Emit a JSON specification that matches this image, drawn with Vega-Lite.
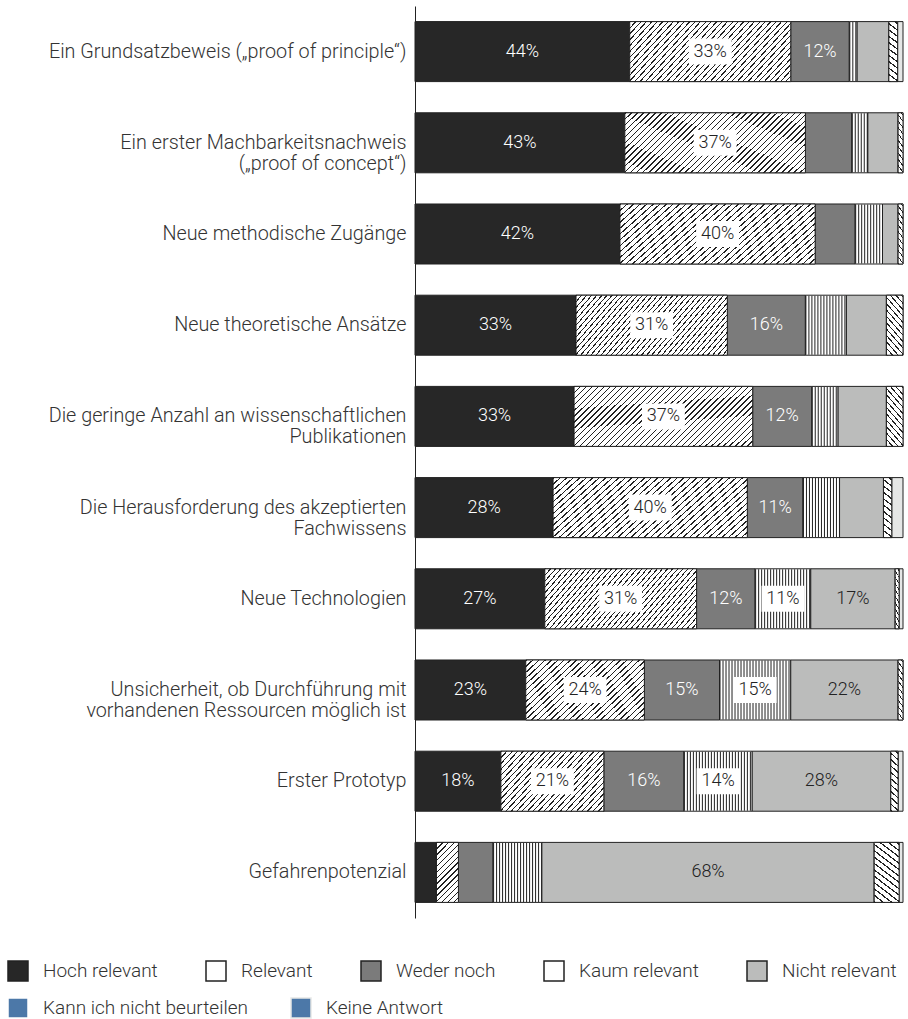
{
 "$schema": "https://vega.github.io/schema/vega-lite/v6.json",
 "width": 488, "height": 912,
 "autosize": "none",
 "padding": {"left": 415, "top": 6, "right": 5, "bottom": 101},
 "config": {"font": "Roboto", "view": {"stroke": null}},
 "params": [{"name": "hatch", "value": [
{"offset":0,"color":"#222"},{"offset":0.006,"color":"#222"},{"offset":0.006,"color":"#fff"},{"offset":0.025,"color":"#fff"},
{"offset":0.025,"color":"#222"},{"offset":0.031,"color":"#222"},{"offset":0.031,"color":"#fff"},{"offset":0.05,"color":"#fff"},
{"offset":0.05,"color":"#222"},{"offset":0.056,"color":"#222"},{"offset":0.056,"color":"#fff"},{"offset":0.075,"color":"#fff"},
{"offset":0.075,"color":"#222"},{"offset":0.081,"color":"#222"},{"offset":0.081,"color":"#fff"},{"offset":0.1,"color":"#fff"},
{"offset":0.1,"color":"#222"},{"offset":0.106,"color":"#222"},{"offset":0.106,"color":"#fff"},{"offset":0.125,"color":"#fff"},
{"offset":0.125,"color":"#222"},{"offset":0.131,"color":"#222"},{"offset":0.131,"color":"#fff"},{"offset":0.15,"color":"#fff"},
{"offset":0.15,"color":"#222"},{"offset":0.156,"color":"#222"},{"offset":0.156,"color":"#fff"},{"offset":0.175,"color":"#fff"},
{"offset":0.175,"color":"#222"},{"offset":0.181,"color":"#222"},{"offset":0.181,"color":"#fff"},{"offset":0.2,"color":"#fff"},
{"offset":0.2,"color":"#222"},{"offset":0.206,"color":"#222"},{"offset":0.206,"color":"#fff"},{"offset":0.225,"color":"#fff"},
{"offset":0.225,"color":"#222"},{"offset":0.231,"color":"#222"},{"offset":0.231,"color":"#fff"},{"offset":0.25,"color":"#fff"},
{"offset":0.25,"color":"#222"},{"offset":0.256,"color":"#222"},{"offset":0.256,"color":"#fff"},{"offset":0.275,"color":"#fff"},
{"offset":0.275,"color":"#222"},{"offset":0.281,"color":"#222"},{"offset":0.281,"color":"#fff"},{"offset":0.3,"color":"#fff"},
{"offset":0.3,"color":"#222"},{"offset":0.306,"color":"#222"},{"offset":0.306,"color":"#fff"},{"offset":0.325,"color":"#fff"},
{"offset":0.325,"color":"#222"},{"offset":0.331,"color":"#222"},{"offset":0.331,"color":"#fff"},{"offset":0.35,"color":"#fff"},
{"offset":0.35,"color":"#222"},{"offset":0.356,"color":"#222"},{"offset":0.356,"color":"#fff"},{"offset":0.375,"color":"#fff"},
{"offset":0.375,"color":"#222"},{"offset":0.381,"color":"#222"},{"offset":0.381,"color":"#fff"},{"offset":0.4,"color":"#fff"},
{"offset":0.4,"color":"#222"},{"offset":0.406,"color":"#222"},{"offset":0.406,"color":"#fff"},{"offset":0.425,"color":"#fff"},
{"offset":0.425,"color":"#222"},{"offset":0.431,"color":"#222"},{"offset":0.431,"color":"#fff"},{"offset":0.45,"color":"#fff"},
{"offset":0.45,"color":"#222"},{"offset":0.456,"color":"#222"},{"offset":0.456,"color":"#fff"},{"offset":0.475,"color":"#fff"},
{"offset":0.475,"color":"#222"},{"offset":0.481,"color":"#222"},{"offset":0.481,"color":"#fff"},{"offset":0.5,"color":"#fff"},
{"offset":0.5,"color":"#222"},{"offset":0.506,"color":"#222"},{"offset":0.506,"color":"#fff"},{"offset":0.525,"color":"#fff"},
{"offset":0.525,"color":"#222"},{"offset":0.531,"color":"#222"},{"offset":0.531,"color":"#fff"},{"offset":0.55,"color":"#fff"},
{"offset":0.55,"color":"#222"},{"offset":0.556,"color":"#222"},{"offset":0.556,"color":"#fff"},{"offset":0.575,"color":"#fff"},
{"offset":0.575,"color":"#222"},{"offset":0.581,"color":"#222"},{"offset":0.581,"color":"#fff"},{"offset":0.6,"color":"#fff"},
{"offset":0.6,"color":"#222"},{"offset":0.606,"color":"#222"},{"offset":0.606,"color":"#fff"},{"offset":0.625,"color":"#fff"},
{"offset":0.625,"color":"#222"},{"offset":0.631,"color":"#222"},{"offset":0.631,"color":"#fff"},{"offset":0.65,"color":"#fff"},
{"offset":0.65,"color":"#222"},{"offset":0.656,"color":"#222"},{"offset":0.656,"color":"#fff"},{"offset":0.675,"color":"#fff"},
{"offset":0.675,"color":"#222"},{"offset":0.681,"color":"#222"},{"offset":0.681,"color":"#fff"},{"offset":0.7,"color":"#fff"},
{"offset":0.7,"color":"#222"},{"offset":0.706,"color":"#222"},{"offset":0.706,"color":"#fff"},{"offset":0.725,"color":"#fff"},
{"offset":0.725,"color":"#222"},{"offset":0.731,"color":"#222"},{"offset":0.731,"color":"#fff"},{"offset":0.75,"color":"#fff"},
{"offset":0.75,"color":"#222"},{"offset":0.756,"color":"#222"},{"offset":0.756,"color":"#fff"},{"offset":0.775,"color":"#fff"},
{"offset":0.775,"color":"#222"},{"offset":0.781,"color":"#222"},{"offset":0.781,"color":"#fff"},{"offset":0.8,"color":"#fff"},
{"offset":0.8,"color":"#222"},{"offset":0.806,"color":"#222"},{"offset":0.806,"color":"#fff"},{"offset":0.825,"color":"#fff"},
{"offset":0.825,"color":"#222"},{"offset":0.831,"color":"#222"},{"offset":0.831,"color":"#fff"},{"offset":0.85,"color":"#fff"},
{"offset":0.85,"color":"#222"},{"offset":0.856,"color":"#222"},{"offset":0.856,"color":"#fff"},{"offset":0.875,"color":"#fff"},
{"offset":0.875,"color":"#222"},{"offset":0.881,"color":"#222"},{"offset":0.881,"color":"#fff"},{"offset":0.9,"color":"#fff"},
{"offset":0.9,"color":"#222"},{"offset":0.906,"color":"#222"},{"offset":0.906,"color":"#fff"},{"offset":0.925,"color":"#fff"},
{"offset":0.925,"color":"#222"},{"offset":0.931,"color":"#222"},{"offset":0.931,"color":"#fff"},{"offset":0.95,"color":"#fff"},
{"offset":0.95,"color":"#222"},{"offset":0.956,"color":"#222"},{"offset":0.956,"color":"#fff"},{"offset":0.975,"color":"#fff"},
{"offset":0.975,"color":"#222"},{"offset":0.981,"color":"#222"},{"offset":0.981,"color":"#fff"},{"offset":1,"color":"#fff"}
 ]}],
 "data": {"values": [
  {"c": "Ein Grundsatzbeweis („proof of principle“)", "s": "Hoch relevant", "v": 44},
  {"c": "Ein Grundsatzbeweis („proof of principle“)", "s": "Relevant", "v": 33},
  {"c": "Ein Grundsatzbeweis („proof of principle“)", "s": "Weder noch", "v": 12},
  {"c": "Ein Grundsatzbeweis („proof of principle“)", "s": "Kaum relevant", "v": 1.6},
  {"c": "Ein Grundsatzbeweis („proof of principle“)", "s": "Nicht relevant", "v": 6.5},
  {"c": "Ein Grundsatzbeweis („proof of principle“)", "s": "Kann ich nicht beurteilen", "v": 1.8},
  {"c": "Ein Grundsatzbeweis („proof of principle“)", "s": "Keine Antwort", "v": 1.1},
  {"c": "Ein erster Machbarkeitsnachweis\n(„proof of concept“)", "s": "Hoch relevant", "v": 43},
  {"c": "Ein erster Machbarkeitsnachweis\n(„proof of concept“)", "s": "Relevant", "v": 37},
  {"c": "Ein erster Machbarkeitsnachweis\n(„proof of concept“)", "s": "Weder noch", "v": 9.5},
  {"c": "Ein erster Machbarkeitsnachweis\n(„proof of concept“)", "s": "Kaum relevant", "v": 3.3},
  {"c": "Ein erster Machbarkeitsnachweis\n(„proof of concept“)", "s": "Nicht relevant", "v": 6.2},
  {"c": "Ein erster Machbarkeitsnachweis\n(„proof of concept“)", "s": "Kann ich nicht beurteilen", "v": 1.0},
  {"c": "Neue methodische Zugänge", "s": "Hoch relevant", "v": 42},
  {"c": "Neue methodische Zugänge", "s": "Relevant", "v": 40},
  {"c": "Neue methodische Zugänge", "s": "Weder noch", "v": 8.2},
  {"c": "Neue methodische Zugänge", "s": "Kaum relevant", "v": 5.6},
  {"c": "Neue methodische Zugänge", "s": "Nicht relevant", "v": 3.2},
  {"c": "Neue methodische Zugänge", "s": "Kann ich nicht beurteilen", "v": 1.0},
  {"c": "Neue theoretische Ansätze", "s": "Hoch relevant", "v": 33},
  {"c": "Neue theoretische Ansätze", "s": "Relevant", "v": 31},
  {"c": "Neue theoretische Ansätze", "s": "Weder noch", "v": 16},
  {"c": "Neue theoretische Ansätze", "s": "Kaum relevant", "v": 8.4},
  {"c": "Neue theoretische Ansätze", "s": "Nicht relevant", "v": 8.2},
  {"c": "Neue theoretische Ansätze", "s": "Kann ich nicht beurteilen", "v": 3.4},
  {"c": "Die geringe Anzahl an wissenschaftlichen\nPublikationen", "s": "Hoch relevant", "v": 32.6},
  {"c": "Die geringe Anzahl an wissenschaftlichen\nPublikationen", "s": "Relevant", "v": 36.6},
  {"c": "Die geringe Anzahl an wissenschaftlichen\nPublikationen", "s": "Weder noch", "v": 12.1},
  {"c": "Die geringe Anzahl an wissenschaftlichen\nPublikationen", "s": "Kaum relevant", "v": 5.4},
  {"c": "Die geringe Anzahl an wissenschaftlichen\nPublikationen", "s": "Nicht relevant", "v": 9.9},
  {"c": "Die geringe Anzahl an wissenschaftlichen\nPublikationen", "s": "Kann ich nicht beurteilen", "v": 3.4},
  {"c": "Die Herausforderung des akzeptierten\nFachwissens", "s": "Hoch relevant", "v": 28.3},
  {"c": "Die Herausforderung des akzeptierten\nFachwissens", "s": "Relevant", "v": 39.8},
  {"c": "Die Herausforderung des akzeptierten\nFachwissens", "s": "Weder noch", "v": 11.4},
  {"c": "Die Herausforderung des akzeptierten\nFachwissens", "s": "Kaum relevant", "v": 7.5},
  {"c": "Die Herausforderung des akzeptierten\nFachwissens", "s": "Nicht relevant", "v": 9.0},
  {"c": "Die Herausforderung des akzeptierten\nFachwissens", "s": "Kann ich nicht beurteilen", "v": 1.7},
  {"c": "Die Herausforderung des akzeptierten\nFachwissens", "s": "Keine Antwort", "v": 2.3},
  {"c": "Neue Technologien", "s": "Hoch relevant", "v": 26.6},
  {"c": "Neue Technologien", "s": "Relevant", "v": 31.1},
  {"c": "Neue Technologien", "s": "Weder noch", "v": 12.0},
  {"c": "Neue Technologien", "s": "Kaum relevant", "v": 11.4},
  {"c": "Neue Technologien", "s": "Nicht relevant", "v": 17.3},
  {"c": "Neue Technologien", "s": "Kann ich nicht beurteilen", "v": 0.8},
  {"c": "Neue Technologien", "s": "Keine Antwort", "v": 0.8},
  {"c": "Unsicherheit, ob Durchführung mit\nvorhandenen Ressourcen möglich ist", "s": "Hoch relevant", "v": 22.7},
  {"c": "Unsicherheit, ob Durchführung mit\nvorhandenen Ressourcen möglich ist", "s": "Relevant", "v": 24.3},
  {"c": "Unsicherheit, ob Durchführung mit\nvorhandenen Ressourcen möglich ist", "s": "Weder noch", "v": 15.4},
  {"c": "Unsicherheit, ob Durchführung mit\nvorhandenen Ressourcen möglich ist", "s": "Kaum relevant", "v": 14.6},
  {"c": "Unsicherheit, ob Durchführung mit\nvorhandenen Ressourcen möglich ist", "s": "Nicht relevant", "v": 22.0},
  {"c": "Unsicherheit, ob Durchführung mit\nvorhandenen Ressourcen möglich ist", "s": "Kann ich nicht beurteilen", "v": 1.0},
  {"c": "Erster Prototyp", "s": "Hoch relevant", "v": 17.6},
  {"c": "Erster Prototyp", "s": "Relevant", "v": 21.1},
  {"c": "Erster Prototyp", "s": "Weder noch", "v": 16.4},
  {"c": "Erster Prototyp", "s": "Kaum relevant", "v": 14.0},
  {"c": "Erster Prototyp", "s": "Nicht relevant", "v": 28.4},
  {"c": "Erster Prototyp", "s": "Kann ich nicht beurteilen", "v": 1.5},
  {"c": "Erster Prototyp", "s": "Keine Antwort", "v": 1.0},
  {"c": "Gefahrenpotenzial", "s": "Hoch relevant", "v": 4.4},
  {"c": "Gefahrenpotenzial", "s": "Relevant", "v": 4.5},
  {"c": "Gefahrenpotenzial", "s": "Weder noch", "v": 7.1},
  {"c": "Gefahrenpotenzial", "s": "Kaum relevant", "v": 10.0},
  {"c": "Gefahrenpotenzial", "s": "Nicht relevant", "v": 68.1},
  {"c": "Gefahrenpotenzial", "s": "Kann ich nicht beurteilen", "v": 5.1},
  {"c": "Gefahrenpotenzial", "s": "Keine Antwort", "v": 0.8}
 ]},
 "transform": [
  {"calculate": "indexof(['Hoch relevant','Relevant','Weder noch','Kaum relevant','Nicht relevant','Kann ich nicht beurteilen','Keine Antwort'], datum.s)", "as": "o"},
  {"stack": "v", "groupby": ["c"], "sort": [{"field": "o", "order": "ascending"}], "as": ["v0", "v1"]},
  {"calculate": "(datum.v0 + datum.v1) / 2", "as": "mid"},
  {"calculate": "format(datum.v, '.0f') + '%'", "as": "lab"}
 ],
 "encoding": {
  "y": {"field": "c", "type": "nominal",
   "scale": {"domain": [
     "Ein Grundsatzbeweis („proof of principle“)",
     "Ein erster Machbarkeitsnachweis\n(„proof of concept“)",
     "Neue methodische Zugänge",
     "Neue theoretische Ansätze",
     "Die geringe Anzahl an wissenschaftlichen\nPublikationen",
     "Die Herausforderung des akzeptierten\nFachwissens",
     "Neue Technologien",
     "Unsicherheit, ob Durchführung mit\nvorhandenen Ressourcen möglich ist",
     "Erster Prototyp",
     "Gefahrenpotenzial"], "paddingInner": 0.342, "paddingOuter": 0.171},
   "axis": {"title": null, "ticks": false, "grid": false, "domainColor": "#222", "domainWidth": 1,
     "labelPadding": 9, "labelFontSize": 19.8, "labelFont": "Roboto", "labelFontWeight": 300, "labelColor": "#333",
     "labelLimit": 414, "labelLineHeight": 21, "labelExpr": "split(datum.label, '\\n')"}}
 },
 "layer": [
  {"transform": [{"filter": "datum.s === 'Kann ich nicht beurteilen' || datum.s === 'Keine Antwort'"}, {"calculate": "datum.s", "as": "s2"}],
   "mark": {"type": "bar", "opacity": 0},
   "encoding": {
    "x": {"field": "v0", "type": "quantitative", "scale": {"domain": [0, 100], "nice": false}, "axis": null},
    "x2": {"field": "v1"},
    "stroke": {"field": "s2", "type": "nominal",
     "scale": {"domain": ["Kann ich nicht beurteilen","Keine Antwort"], "range": ["#ffffff","#e6e7e6"]},
     "legend": {"orient": "none", "legendX": -408, "legendY": 991, "direction": "horizontal", "columns": 2,
       "columnPadding": 40, "symbolType": "square", "symbolSize": 400,
       "labelFontSize": 19, "labelFont": "Roboto", "labelFontWeight": 300, "labelColor": "#333", "labelOffset": 14, "labelLimit": 300, "title": null, "padding": 0,
       "encode": {"symbols": {
         "fill": {"condition": {"test": "datum.value === 'Kann ich nicht beurteilen'",
            "value": {"gradient": "linear", "x1": 0, "y1": 1, "x2": 1, "y2": 0.0001, "stops": [
              {"offset":0,"color":"#222"},{"offset":0.055,"color":"#222"},{"offset":0.055,"color":"#fff"},{"offset":0.2,"color":"#fff"},
              {"offset":0.2,"color":"#222"},{"offset":0.255,"color":"#222"},{"offset":0.255,"color":"#fff"},{"offset":0.4,"color":"#fff"},
              {"offset":0.4,"color":"#222"},{"offset":0.455,"color":"#222"},{"offset":0.455,"color":"#fff"},{"offset":0.6,"color":"#fff"},
              {"offset":0.6,"color":"#222"},{"offset":0.655,"color":"#222"},{"offset":0.655,"color":"#fff"},{"offset":0.8,"color":"#fff"},
              {"offset":0.8,"color":"#222"},{"offset":0.855,"color":"#222"},{"offset":0.855,"color":"#fff"},{"offset":1,"color":"#fff"}]}},
           "value": "#e6e7e6"},
         "stroke": {"value": "#222"}, "strokeWidth": {"value": 1}, "opacity": {"value": 1}}}}}
   }},
  {"mark": {"type": "bar", "stroke": "#222", "strokeWidth": 1},
   "encoding": {
    "x": {"field": "v0", "type": "quantitative"},
    "x2": {"field": "v1"},
    "fill": {"field": "s", "type": "nominal",
     "scale": {"domain": ["Hoch relevant","Relevant","Weder noch","Kaum relevant","Nicht relevant","Kann ich nicht beurteilen","Keine Antwort"],
               "range": ["#272727","#ffffff","#7b7b7b","#ffffff","#bbbcbb","#ffffff","#e6e7e6"]},
     "legend": {"values": ["Hoch relevant","Relevant","Weder noch","Kaum relevant","Nicht relevant"], "orient": "none", "legendX": -408, "legendY": 954, "direction": "horizontal", "columns": 5,
       "columnPadding": 45, "symbolType": "square", "symbolSize": 400,
       "labelFontSize": 19, "labelFont": "Roboto", "labelFontWeight": 300, "labelColor": "#333", "labelOffset": 14, "labelLimit": 300, "title": null, "padding": 0,
       "encode": {"symbols": {
         "fill": {"condition": [
           {"test": "datum.value === 'Relevant'",
            "value": {"gradient": "linear", "x1": 0, "y1": 0, "x2": 1, "y2": 1, "stops": [
              {"offset":0,"color":"#222"},{"offset":0.04,"color":"#222"},{"offset":0.04,"color":"#fff"},{"offset":0.1667,"color":"#fff"},
              {"offset":0.1667,"color":"#222"},{"offset":0.2067,"color":"#222"},{"offset":0.2067,"color":"#fff"},{"offset":0.3333,"color":"#fff"},
              {"offset":0.3333,"color":"#222"},{"offset":0.3733,"color":"#222"},{"offset":0.3733,"color":"#fff"},{"offset":0.5,"color":"#fff"},
              {"offset":0.5,"color":"#222"},{"offset":0.54,"color":"#222"},{"offset":0.54,"color":"#fff"},{"offset":0.6667,"color":"#fff"},
              {"offset":0.6667,"color":"#222"},{"offset":0.7067,"color":"#222"},{"offset":0.7067,"color":"#fff"},{"offset":0.8333,"color":"#fff"},
              {"offset":0.8333,"color":"#222"},{"offset":0.8733,"color":"#222"},{"offset":0.8733,"color":"#fff"},{"offset":1,"color":"#fff"}]}},
           {"test": "datum.value === 'Kaum relevant'",
            "value": {"gradient": "linear", "x1": 0, "y1": 0, "x2": 1, "y2": 0, "stops": [
              {"offset":0,"color":"#222"},{"offset":0.05,"color":"#222"},{"offset":0.05,"color":"#fff"},{"offset":0.1667,"color":"#fff"},
              {"offset":0.1667,"color":"#222"},{"offset":0.2167,"color":"#222"},{"offset":0.2167,"color":"#fff"},{"offset":0.3333,"color":"#fff"},
              {"offset":0.3333,"color":"#222"},{"offset":0.3833,"color":"#222"},{"offset":0.3833,"color":"#fff"},{"offset":0.5,"color":"#fff"},
              {"offset":0.5,"color":"#222"},{"offset":0.55,"color":"#222"},{"offset":0.55,"color":"#fff"},{"offset":0.6667,"color":"#fff"},
              {"offset":0.6667,"color":"#222"},{"offset":0.7167,"color":"#222"},{"offset":0.7167,"color":"#fff"},{"offset":0.8333,"color":"#fff"},
              {"offset":0.8333,"color":"#222"},{"offset":0.8833,"color":"#222"},{"offset":0.8833,"color":"#fff"},{"offset":1,"color":"#fff"}]}},
           {"test": "datum.value === 'Hoch relevant'", "value": "#272727"},
           {"test": "datum.value === 'Weder noch'", "value": "#7b7b7b"}],
          "value": "#bbbcbb"},
         "stroke": {"value": "#222"}, "strokeWidth": {"value": 1}, "opacity": {"value": 1}}}}}
   }},
  {"transform": [{"filter": "datum.s === 'Relevant' && datum.v >= 28"}],
   "mark": {"type": "bar", "stroke": "#222", "strokeWidth": 1, "fill": {"expr": "{gradient:'linear',x1:0,y1:0,x2:1.2005,y2:0.4116,stops:hatch}"}},
   "encoding": {"x": {"field": "v0", "type": "quantitative"}, "x2": {"field": "v1"}}},
  {"transform": [{"filter": "datum.s === 'Relevant' && datum.v >= 15 && datum.v < 28"}],
   "mark": {"type": "bar", "stroke": "#222", "strokeWidth": 1, "fill": {"expr": "{gradient:'linear',x1:0,y1:0,x2:1.637,y2:0.885,stops:hatch}"}},
   "encoding": {"x": {"field": "v0", "type": "quantitative"}, "x2": {"field": "v1"}}},
  {"transform": [{"filter": "datum.s === 'Relevant' && datum.v < 15"}],
   "mark": {"type": "bar", "stroke": "#222", "strokeWidth": 1, "fill": {"expr": "{gradient:'linear',x1:0,y1:0,x2:1.265,y2:3.45,stops:hatch}"}},
   "encoding": {"x": {"field": "v0", "type": "quantitative"}, "x2": {"field": "v1"}}},
  {"transform": [{"filter": "datum.s === 'Kann ich nicht beurteilen' && datum.v < 2.5"}],
   "mark": {"type": "bar", "stroke": "#222", "strokeWidth": 1, "fill": {"expr": "{gradient:'linear',x1:0,y1:1,x2:0.454,y2:-3.19,stops:hatch}"}},
   "encoding": {"x": {"field": "v0", "type": "quantitative"}, "x2": {"field": "v1"}}},
  {"transform": [{"filter": "datum.s === 'Kann ich nicht beurteilen' && datum.v >= 2.5"}],
   "mark": {"type": "bar", "stroke": "#222", "strokeWidth": 1, "fill": {"expr": "{gradient:'linear',x1:0,y1:1,x2:1.221,y2:-2.857,stops:hatch}"}},
   "encoding": {"x": {"field": "v0", "type": "quantitative"}, "x2": {"field": "v1"}}},
  {"transform": [{"filter": "datum.s === 'Kaum relevant'"}],
   "mark": {"type": "rule", "strokeWidth": 59, "strokeDash": [1, 2], "color": "#222", "strokeCap": "butt"},
   "encoding": {"x": {"field": "v0", "type": "quantitative"}, "x2": {"field": "v1"}}},
  {"transform": [{"filter": "datum.v >= 10.5 && (datum.s === 'Relevant' || datum.s === 'Kaum relevant')"}],
   "mark": {"type": "point", "shape": "M-1.65,-1H1.65V1H-1.65Z", "size": 676, "filled": true, "fill": "#ffffff", "opacity": 1, "strokeWidth": 0},
   "encoding": {"x": {"field": "mid", "type": "quantitative"}}},
  {"transform": [{"filter": "datum.v >= 10.5"}],
   "mark": {"type": "text", "fontSize": 18, "font": "Roboto", "fontWeight": 300, "baseline": "middle", "align": "center"},
   "encoding": {"x": {"field": "mid", "type": "quantitative"}, "text": {"field": "lab"},
    "color": {"condition": {"test": "datum.s === 'Hoch relevant' || datum.s === 'Weder noch'", "value": "#ffffff"}, "value": "#222222"}}}
 ]
}
